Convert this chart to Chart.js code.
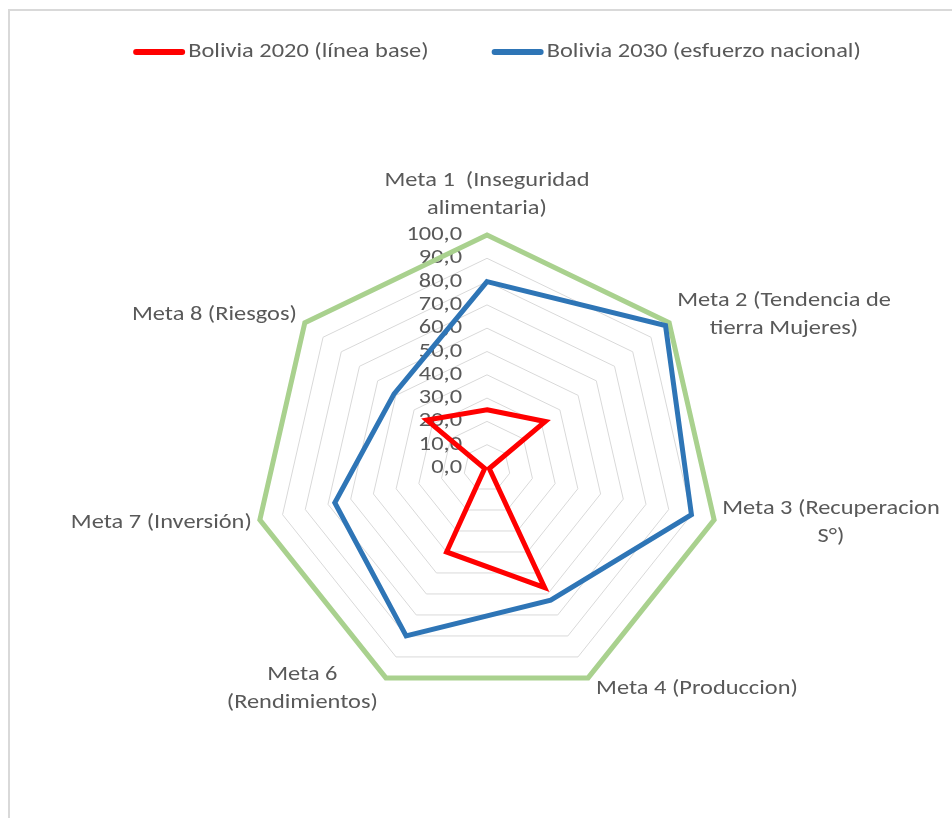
<!DOCTYPE html>
<html>
<head>
<meta charset="utf-8">
<script src="https://cdn.jsdelivr.net/npm/chart.js@4.4.1/dist/chart.umd.min.js"></script>
<style>
  body { margin: 0; background: #fff; }
  #wrap { position: relative; width: 952px; height: 818px; overflow: hidden; }
  #frame { position: absolute; left: 8px; top: 9px; width: 2000px; height: 2000px;
           border-top: 2px solid #d9d9d9; border-left: 2px solid #d9d9d9; }
  #mycanvas { position: absolute; left: 0; top: 0; }
</style>
</head>
<body>
<div id="wrap">
  <div id="frame"></div>
  <canvas id="mycanvas" width="952" height="818"></canvas>
</div>
<script>
// categories (Meta 5 is not in the chart)
var metas = [
  ["Meta 1  (Inseguridad", "alimentaria)"],
  ["Meta 2 (Tendencia de", "tierra Mujeres)"],
  ["Meta 3 (Recuperacion", "S°)"],
  "Meta 4 (Produccion)",
  ["Meta 6", "(Rendimientos)"],
  "Meta 7 (Inversión)",
  "Meta 8 (Riesgos)"
];

var bolivia2020 = [25, 32, 1, 57, 40, 1, 33];
var bolivia2030 = [80, 98, 90, 63, 80, 67, 51];
var meta100 = [100, 100, 100, 100, 100, 100, 100];

var tickValues = [0, 10, 20, 30, 40, 50, 60, 70, 80, 90, 100];

var fontFamily = "Carlito, Lato, 'Open Sans', sans-serif";
var textColor = "#595959";
var SX = 1.22;   // the original text is drawn wider than plain Calibri

Chart.defaults.font.family = fontFamily;

function wideText(c, s, x, y, align) {
  c.save();
  c.translate(x, y);
  c.scale(SX, 1);
  c.textAlign = align;
  c.fillText(s, 0, 0);
  c.restore();
}

// axis numbers left of the vertical axis + category labels + legend
var radarText = {
  id: 'radarText',
  beforeDatasetsDraw: function(chart) {
    var r = chart.scales.r;
    var ctx = chart.ctx;
    ctx.save();
    ctx.fillStyle = textColor;
    ctx.font = "20px " + fontFamily;
    ctx.textBaseline = "middle";
    r.ticks.forEach(function(t) {
      var y = r.yCenter - r.getDistanceFromCenterForValue(t.value);
      wideText(ctx, t.value.toFixed(1).replace(".", ","), r.xCenter - 25, y, "right");
    });

    var lineH = 28;
    chart.data.labels.forEach(function(lab, i) {
      var lines = Array.isArray(lab) ? lab : [lab];
      var p = r.getPointPosition(i, r.drawingArea);
      var ux = (p.x - r.xCenter) / r.drawingArea;
      var uy = (p.y - r.yCenter) / r.drawingArea;
      var w = SX * Math.max.apply(null, lines.map(function(s) { return ctx.measureText(s).width; }));
      var h = lines.length * lineH;
      var cx, top;
      if (Math.abs(ux) < 0.05) {
        cx = p.x;
        top = p.y - 12 - h;
      } else {
        cx = ux > 0 ? p.x + 8 + w / 2 : p.x - 8 - w / 2;
        top = p.y + uy * 12 - h / 2;
      }
      lines.forEach(function(s, k) {
        wideText(ctx, s, cx, top + lineH * (k + 0.5), "center");
      });
    });
    ctx.restore();
  },
  afterDraw: function(chart) {
    var ctx = chart.ctx;
    var items = chart.data.datasets.slice(0, 2);
    var sample = 52, gap = 3, spacing = 63, y = 52;
    ctx.save();
    ctx.font = "20px " + fontFamily;
    ctx.textBaseline = "middle";
    var widths = items.map(function(d) { return sample + gap + SX * ctx.measureText(d.label).width; });
    var total = widths.reduce(function(a, b) { return a + b; }, 0) + spacing * (items.length - 1);
    var x = 497 - total / 2;
    items.forEach(function(d, i) {
      ctx.strokeStyle = d.borderColor;
      ctx.lineWidth = 6;
      ctx.lineCap = "round";
      ctx.beginPath();
      ctx.moveTo(x + 3, y);
      ctx.lineTo(x + sample - 3, y);
      ctx.stroke();
      ctx.fillStyle = textColor;
      wideText(ctx, d.label, x + sample + gap, y, "left");
      x += widths[i] + spacing;
    });
    ctx.restore();
  }
};

var ctx = document.getElementById("mycanvas");

var chartdata = {
  labels: metas,
  datasets: [
    {
      label: "Bolivia 2020 (línea base)",
      data: bolivia2020,
      borderColor: "#ff0000",
      backgroundColor: "#ff0000",
      borderWidth: 5,
      fill: false,
      pointRadius: 0
    },
    {
      label: "Bolivia 2030 (esfuerzo nacional)",
      data: bolivia2030,
      borderColor: "#2e75b6",
      backgroundColor: "#2e75b6",
      borderWidth: 5,
      fill: false,
      pointRadius: 0
    },
    {
      label: "Meta",
      data: meta100,
      borderColor: "#a9d18e",
      backgroundColor: "#a9d18e",
      borderWidth: 5,
      fill: false,
      pointRadius: 0
    }
  ]
};

var radarChart = new Chart(ctx, {
  type: 'radar',
  data: chartdata,
  plugins: [radarText],
  options: {
    responsive: false,
    animation: false,
    elements: { line: { tension: 0, borderJoinStyle: 'miter' } },
    plugins: {
      tooltip: { enabled: false },
      legend: { display: false }
    },
    scales: {
      r: {
        min: 0,
        max: 100,
        afterBuildTicks: function(scale) {
          scale.ticks = tickValues.map(function(v) { return { value: v }; });
        },
        ticks: { display: false },
        pointLabels: { display: false },
        angleLines: { display: false },
        grid: { color: "#d9d9d9", lineWidth: 1 },
        afterFit: function(scale) {
          scale.xCenter = 487;
          scale.yCenter = 468;
          scale.drawingArea = 233;
        }
      }
    }
  }
});
</script>
</body>
</html>
